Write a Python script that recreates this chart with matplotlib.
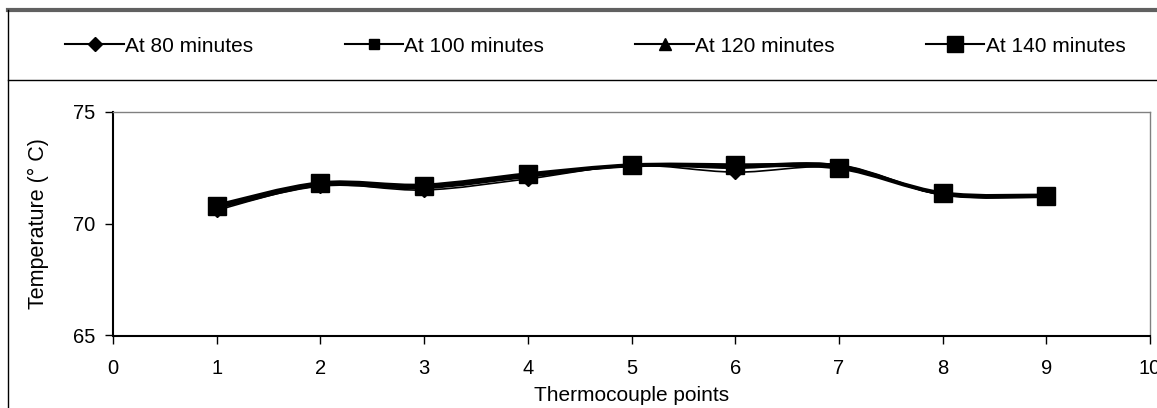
import numpy as np
import matplotlib
matplotlib.use("Agg")
import matplotlib.pyplot as plt
from matplotlib.path import Path
from matplotlib.patches import PathPatch
from matplotlib.lines import Line2D

plt.rcParams['font.family'] = ['Liberation Sans', 'DejaVu Sans']

points = [1, 2, 3, 4, 5, 6, 7, 8, 9]
t80 = [70.6, 71.7, 71.5, 72.0, 72.6, 72.3, 72.5, 71.3, 71.2]
t100 = [70.7, 71.7, 71.6, 72.1, 72.6, 72.5, 72.6, 71.3, 71.2]
t120 = [70.7, 71.8, 71.7, 72.2, 72.6, 72.6, 72.6, 71.3, 71.2]
t140 = [70.8, 71.8, 71.7, 72.2, 72.6, 72.6, 72.5, 71.35, 71.25]
labels = ["At 80 minutes", "At 100 minutes", "At 120 minutes", "At 140 minutes"]

# marker, marker size, line width per series
styles = [("D", 7, 1.2), ("s", 7, 2.0), ("^", 8, 1.6), ("s", 13, 3.0)]

W, H = 1157, 408


def smooth_path(x, y):
    # excel like smoothed line: catmull-rom turned into bezier segments
    pts = np.column_stack([x, y]).astype(float)
    n = len(pts)
    verts = [pts[0]]
    codes = [Path.MOVETO]
    for i in range(n - 1):
        p0 = pts[i - 1] if i > 0 else pts[i]
        p1 = pts[i]
        p2 = pts[i + 1]
        p3 = pts[i + 2] if i + 2 < n else pts[i + 1]
        c1 = p1 + (p2 - p0) / 6.0
        c2 = p2 - (p3 - p1) / 6.0
        verts += [c1, c2, p2]
        codes += [Path.CURVE4] * 3
    return Path(verts, codes)


fig = plt.figure(figsize=(W / 100, H / 100), dpi=100)
ax = fig.add_axes([113 / W, 1 - 335.5 / H, (1150 - 113) / W, (335.5 - 111.7) / H])

series = [t80, t100, t120, t140]
handles = []
for vals, lab, (mk, ms, lw) in zip(series, labels, styles):
    ax.add_patch(PathPatch(smooth_path(points, vals), fill=False,
                           edgecolor="black", lw=lw, zorder=3))
    ax.plot(points, vals, linestyle="none", marker=mk, ms=ms,
            color="black", zorder=4)
    handles.append(Line2D([], [], color="black", lw=1.5, marker=mk,
                          ms=min(ms, 11)))

ax.set_xlim(0, 10)
ax.set_ylim(65, 75)
ax.set_xticks(range(0, 11))
ax.set_yticks([65, 70, 75])
ax.tick_params(direction="out", length=6, width=1, labelsize=14.5)
ax.tick_params(axis="x", pad=11)
ax.tick_params(axis="y", pad=7)
ax.set_xlabel("Thermocouple points", fontsize=15, labelpad=6)
ax.set_ylabel("Temperature (° C)", fontsize=15.5, labelpad=17)
for s in ["left", "bottom"]:
    ax.spines[s].set_linewidth(1.5)
for s in ["top", "right"]:
    ax.spines[s].set_color("#808080")
    ax.spines[s].set_linewidth(1.0)

fig.legend(handles, labels, loc="center left", bbox_to_anchor=(55 / W, 1 - 46 / H),
           ncol=4, frameon=False, fontsize=15, handlelength=2.8, borderpad=0,
           handletextpad=0.05, columnspacing=4.4)

# chart frame lines
fig.add_artist(Line2D([8 / W, 1], [1 - 10 / H, 1 - 10 / H], color="#606060", lw=3))
fig.add_artist(Line2D([8 / W, 8 / W], [0, 1 - 10 / H], color="black", lw=1))
fig.add_artist(Line2D([8 / W, 1], [1 - 80 / H, 1 - 80 / H], color="black", lw=1))

fig.savefig("out.png", dpi=100)
